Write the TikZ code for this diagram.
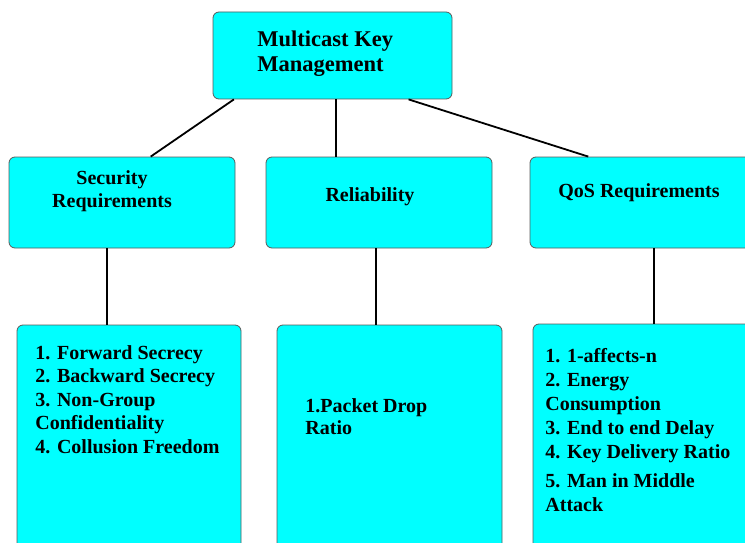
\documentclass[tikz,border=0pt]{standalone}
\usepackage{fontspec}
\setmainfont{Liberation Serif}
\usepackage{xcolor}
\usetikzlibrary{positioning, calc}
\tikzset{every picture/.append style={thick}}
\definecolor{boxcyan}{RGB}{0,255,255}
\definecolor{boxedge}{RGB}{90,90,90}
\tikzset{
    box/.style={draw=boxedge, line width=0.8pt, fill=boxcyan, rounded corners=6pt, inner sep=0pt},
    txt/.style={inner sep=0pt, font=\bfseries\fontsize{20}{23.5}\selectfont},
    link/.style={black, line width=1.8pt}
}

\begin{document}
\begin{tikzpicture}[x=1pt, y=-1pt]
    % Frame
    \useasboundingbox (0,0) rectangle (745,543);
    \clip (0,0) rectangle (745,543);

    % Boxes
    \node[box, minimum width=239pt, minimum height=87pt] (top) at (332.5,55.5) {};
    \node[box, minimum width=226pt, minimum height=91pt] (sec) at (122,202.5) {};
    \node[box, minimum width=226pt, minimum height=91pt] (rel) at (379,202.5) {};
    \node[box, minimum width=226pt, minimum height=91pt] (qos) at (643,202.5) {};
    \node[box, minimum width=224pt, minimum height=275pt] (secList) at (129,462.5) {};
    \node[box, minimum width=225pt, minimum height=275pt] (relList) at (389.5,462.5) {};
    \node[box, minimum width=224pt, minimum height=276pt] (qosList) at (645,462) {};

    % Links
    \draw[link] (top.204.5) -- (sec.58.4);
    \draw[link] (top.-85.4) -- (top.-85.4 |- rel.north);
    \draw[link] (top.-30) -- (qos.140.9);
    \draw[link] ([xshift=-15pt]sec.south) -- ([xshift=-15pt]sec.south |- secList.north);
    \draw[link] ([xshift=-3pt]rel.south) -- ([xshift=-3pt]rel.south |- relList.north);
    \draw[link] ([xshift=11pt]qos.south) -- ([xshift=11pt]qos.south |- qosList.north);

    % Labels
    \node[txt, font=\bfseries\fontsize{22.5}{25}\selectfont, align=left, anchor=north west] (topText) at (257,30) {Multicast Key\\Management};
    \node[txt, align=center] (secText) at (112,191) {Security\\Requirements};
    \node[txt] (relText) at (370,197) {Reliability};
    \node[txt] (qosText) at (639,193) {QoS Requirements};

    % Lists
    \node[txt, align=left, anchor=north west] (secItems) at (35,345)
        {1. Forward Secrecy\\2. Backward Secrecy\\3. Non-Group\\Confidentiality\\4. Collusion Freedom};
    \node[txt, font=\bfseries\fontsize{20}{22}\selectfont, align=left, anchor=north west] (relItems) at (305,398)
        {1.Packet Drop\\Ratio};
    \node[txt, font=\bfseries\fontsize{20}{24}\selectfont, align=left, anchor=north west] (qosItems) at (545,348)
        {1. 1-affects-n\\2. Energy\\Consumption\\3. End to end Delay\\4. Key Delivery Ratio\\[5pt]5. Man in Middle\\Attack};
\end{tikzpicture}
\end{document}
